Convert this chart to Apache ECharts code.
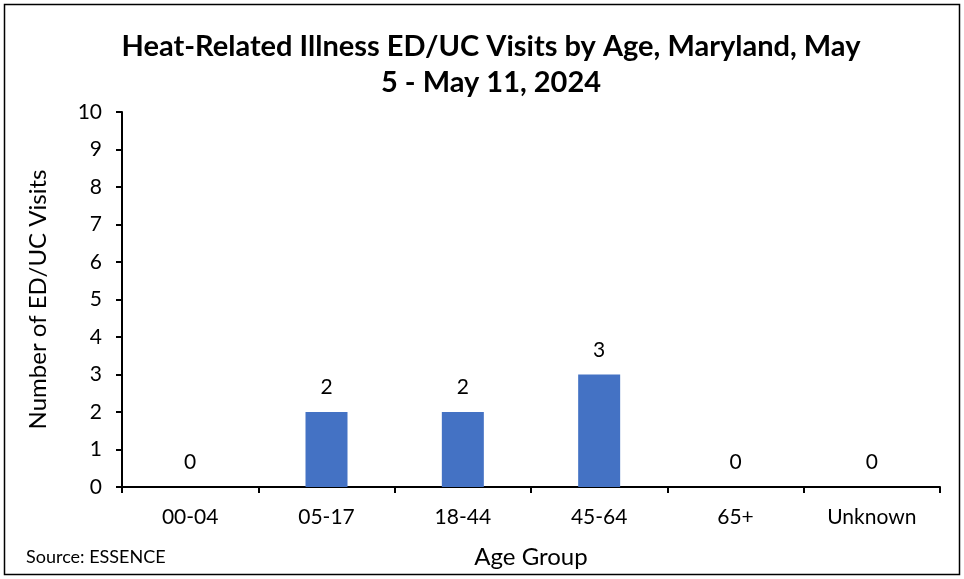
<!DOCTYPE html>
<html><head><meta charset="utf-8">
<script src="https://cdn.jsdelivr.net/npm/echarts@6/dist/echarts.min.js"></script>
<style>html,body{margin:0;padding:0;background:#fff}#c{width:964px;height:579px}</style>
</head><body><div id="c"></div>
<script>
const categories = ['00-04','05-17','18-44','45-64','65+','Unknown'];
const visits = [0,2,2,3,0,0];
const yTicks = [0,1,2,3,4,5,6,7,8,9,10];
const titleLines = ['Heat-Related Illness ED/UC Visits by Age, Maryland, May','5 - May 11, 2024'];
const FONT = 'Lato';
const chart = echarts.init(document.getElementById('c'));
chart.setOption({
  animation:false,
  backgroundColor:'#fff',
  title:{text:titleLines.join('\n'),left:486,top:24,textAlign:'center',
    textStyle:{fontFamily:FONT,fontSize:29,fontWeight:'bold',color:'#000',lineHeight:36}},
  grid:{left:122,right:24,top:112,bottom:92},
  xAxis:{type:'category',data:categories,
    axisLine:{lineStyle:{color:'#000',width:2}},
    axisTick:{show:true,length:6,lineStyle:{color:'#000',width:2},alignWithLabel:false},
    axisLabel:{fontFamily:FONT,fontSize:21,color:'#000',margin:20},
    name:'Age Group',nameLocation:'middle',nameGap:58,
    nameTextStyle:{fontFamily:FONT,fontSize:24,color:'#000'}},
  yAxis:{type:'value',min:yTicks[0],max:yTicks[yTicks.length-1],interval:1,
    axisLine:{show:true,lineStyle:{color:'#000',width:2}},
    axisTick:{show:true,length:6,lineStyle:{color:'#000',width:2}},
    splitLine:{show:false},
    axisLabel:{fontFamily:FONT,fontSize:21,color:'#000',margin:20},
    name:'Number of ED/UC Visits',nameLocation:'middle',nameGap:72,
    nameTextStyle:{fontFamily:FONT,fontSize:24,color:'#000'}},
  series:[{type:'bar',data:visits,barWidth:42,
    itemStyle:{color:'#4472C4'},
    label:{show:true,position:'top',distance:14,fontFamily:FONT,fontSize:21,color:'#000'}}],
  graphic:[
    {type:'rect',shape:{x:4.5,y:4.5,width:955,height:570},style:{fill:'none',stroke:'#000',lineWidth:1.5},silent:true},
    {type:'text',left:26,top:548,style:{text:'Source: ESSENCE',fontFamily:FONT,fontSize:18,fill:'#000'}}
  ]
});
</script></body></html>
